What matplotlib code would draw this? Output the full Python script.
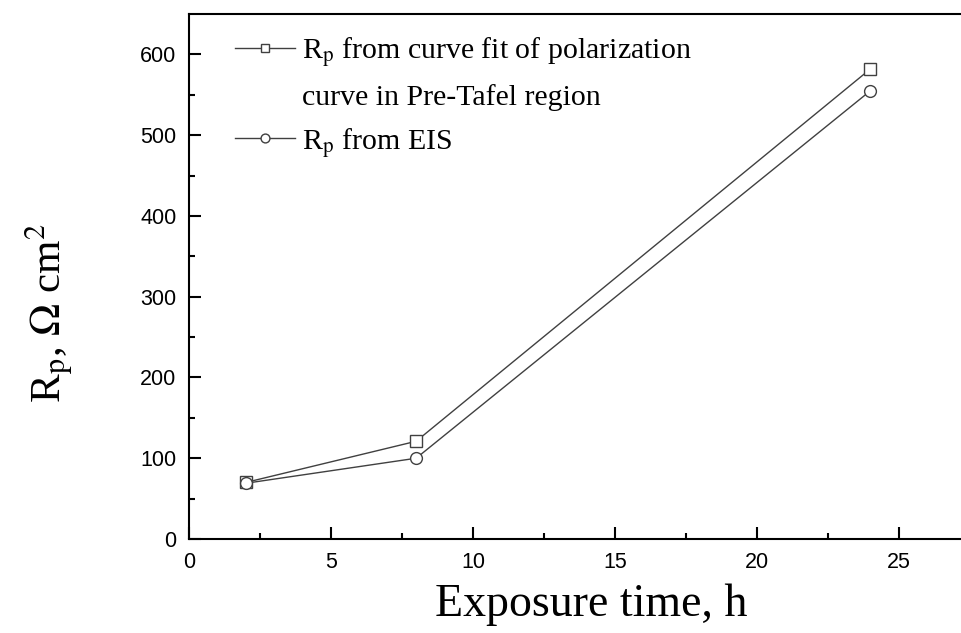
import matplotlib.pyplot as plt
from matplotlib.lines import Line2D

plt.rcParams['mathtext.fontset'] = 'stix'

# exposure time (h) and polarization resistance (ohm cm^2)
hours = [2, 8, 24]
rp_tafel = [70, 121, 582]
rp_eis = [69, 100, 555]

xticks = [0, 5, 10, 15, 20, 25]
yticks = [0, 100, 200, 300, 400, 500, 600]

fig = plt.figure(figsize=(9.61, 6.33), dpi=100)
# the frame runs past the right edge of the figure
ax = fig.add_axes([189 / 961, 94 / 633, 795 / 961, 525 / 633])

gray = '#404040'
l1, = ax.plot(hours, rp_tafel, color=gray, lw=1.0, marker='s', ms=8.5,
              mfc='white', mec=gray, mew=1.0)
l2, = ax.plot(hours, rp_eis, color=gray, lw=1.0, marker='o', ms=8.5,
              mfc='white', mec=gray, mew=1.0)

ax.set_xlim(0, 28)
ax.set_ylim(0, 650)
ax.set_xticks(xticks)
ax.set_yticks(yticks)
ax.set_xticks([2.5, 7.5, 12.5, 17.5, 22.5], minor=True)
ax.set_yticks([50, 150, 250, 350, 450, 550], minor=True)
ax.tick_params(which='both', direction='in', width=1.5, labelsize=15.5,
               labelfontfamily='Liberation Sans')
ax.tick_params(which='major', length=8.5, pad=9)
ax.tick_params(which='minor', length=4.5)
for s in ax.spines.values():
    s.set_linewidth(1.5)

ax.set_xlabel('Exposure time, h', fontsize=33, family='Liberation Serif')
ax.set_ylabel(r'R$_{\rm p}$, $\Omega$ cm$^2$', fontsize=31,
              family='Liberation Serif')
ax.xaxis.set_label_coords((591 - 189) / 795, -(605 - 539) / 525)
ax.yaxis.set_label_coords(-(140) / 795, (539 - 313) / 525)
ax.xaxis.label.set_va('center')
ax.yaxis.label.set_va('center')

blank = Line2D([], [], color='none')
ax.legend([l1, blank, l2],
          [r'R$_{\rm p}$ from curve fit of polarization',
           'curve in Pre-Tafel region',
           r'R$_{\rm p}$ from EIS'],
          loc='upper left', bbox_to_anchor=(34 / 795, 1 - 9 / 525),
          frameon=False, borderaxespad=0.0,
          prop={'family': 'Liberation Serif', 'size': 21.5},
          handlelength=2.0, handletextpad=0.25, labelspacing=0.5,
          markerscale=0.75)

fig.savefig('out.png', dpi=100)
